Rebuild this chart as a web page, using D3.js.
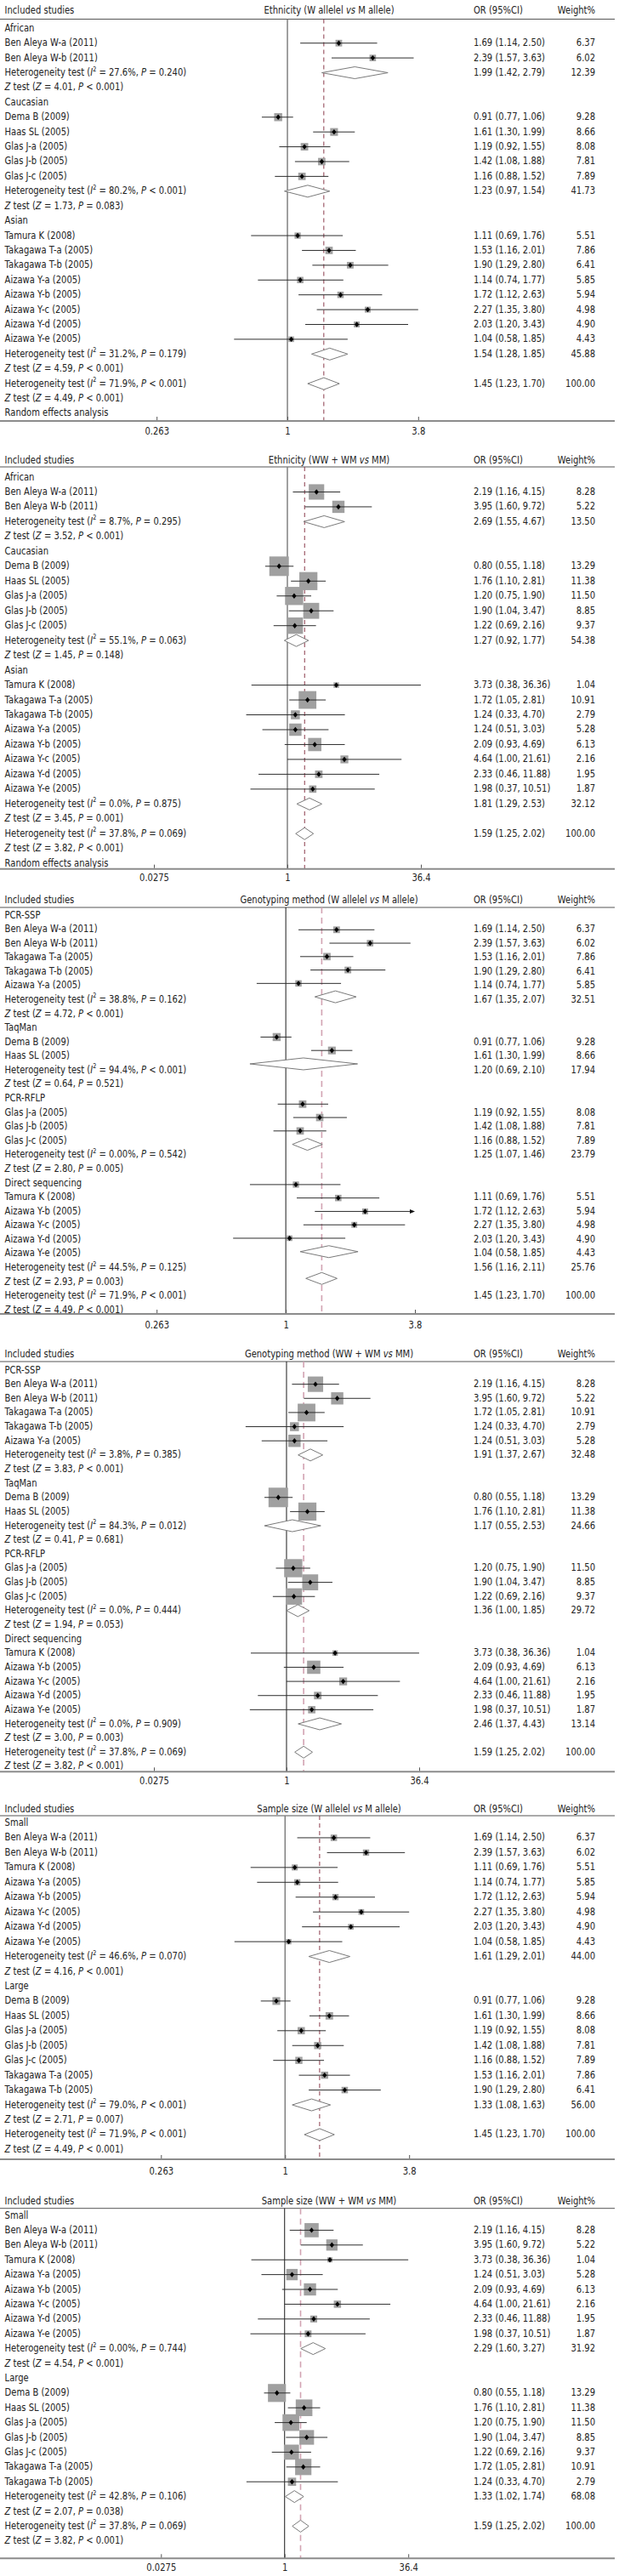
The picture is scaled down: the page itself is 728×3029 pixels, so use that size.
<!DOCTYPE html>
<html><head><meta charset="utf-8">
<script src="https://cdn.jsdelivr.net/npm/d3@7"></script>
<style>
body{margin:0;background:#fff}
svg{display:block}
text{font-family:"DejaVu Sans",Verdana,sans-serif;fill:#222}
</style>
</head><body>
<svg id="chart" width="728" height="3029"></svg>
<script>
// ---------------- DATA ----------------
// row kinds: g = subgroup label, s = study [name, OR, lo, hi, weight],
// h = heterogeneity [I2, P, OR, lo, hi, weight], z = Z test [Z, P], n = note
const titleEthAllele = ["Ethnicity (W allelel ", "vs", " M allele)"];
const titleEthGeno   = ["Ethnicity (WW + WM ", "vs", " MM)"];
const titleMethAllele = ["Genotyping method (W allelel ", "vs", " M allele)"];
const titleMethGeno   = ["Genotyping method (WW + WM ", "vs", " MM)"];
const titleSizeAllele = ["Sample size (W allelel ", "vs", " M allele)"];
const titleSizeGeno   = ["Sample size (WW + WM ", "vs", " MM)"];

const ticksAllele = [0.263, 1, 3.8];
const tickLabelsAllele = ["0.263", "1", "3.8"];
const ticksGeno = [0.0275, 1, 36.4];
const tickLabelsGeno = ["0.0275", "1", "36.4"];
const pooledAllele = 1.45;
const pooledGeno = 1.59;

const rowsEthAllele = [
  ["g","African"],
  ["s","Ben Aleya W-a (2011)",1.69,1.14,2.50,6.37],
  ["s","Ben Aleya W-b (2011)",2.39,1.57,3.63,6.02],
  ["h","27.6%","= 0.240",1.99,1.42,2.79,12.39],
  ["z","4.01","< 0.001"],
  ["g","Caucasian"],
  ["s","Dema B (2009)",0.91,0.77,1.06,9.28],
  ["s","Haas SL (2005)",1.61,1.30,1.99,8.66],
  ["s","Glas J-a (2005)",1.19,0.92,1.55,8.08],
  ["s","Glas J-b (2005)",1.42,1.08,1.88,7.81],
  ["s","Glas J-c (2005)",1.16,0.88,1.52,7.89],
  ["h","80.2%","< 0.001",1.23,0.97,1.54,41.73],
  ["z","1.73","= 0.083"],
  ["g","Asian"],
  ["s","Tamura K (2008)",1.11,0.69,1.76,5.51],
  ["s","Takagawa T-a (2005)",1.53,1.16,2.01,7.86],
  ["s","Takagawa T-b (2005)",1.90,1.29,2.80,6.41],
  ["s","Aizawa Y-a (2005)",1.14,0.74,1.77,5.85],
  ["s","Aizawa Y-b (2005)",1.72,1.12,2.63,5.94],
  ["s","Aizawa Y-c (2005)",2.27,1.35,3.80,4.98],
  ["s","Aizawa Y-d (2005)",2.03,1.20,3.43,4.90],
  ["s","Aizawa Y-e (2005)",1.04,0.58,1.85,4.43],
  ["h","31.2%","= 0.179",1.54,1.28,1.85,45.88],
  ["z","4.59","< 0.001"],
  ["h","71.9%","< 0.001",1.45,1.23,1.70,100.00],
  ["z","4.49","< 0.001"],
  ["n","Random effects analysis"]
];

const rowsEthGeno = [
  ["g","African"],
  ["s","Ben Aleya W-a (2011)",2.19,1.16,4.15,8.28],
  ["s","Ben Aleya W-b (2011)",3.95,1.60,9.72,5.22],
  ["h","8.7%","= 0.295",2.69,1.55,4.67,13.50],
  ["z","3.52","< 0.001"],
  ["g","Caucasian"],
  ["s","Dema B (2009)",0.80,0.55,1.18,13.29],
  ["s","Haas SL (2005)",1.76,1.10,2.81,11.38],
  ["s","Glas J-a (2005)",1.20,0.75,1.90,11.50],
  ["s","Glas J-b (2005)",1.90,1.04,3.47,8.85],
  ["s","Glas J-c (2005)",1.22,0.69,2.16,9.37],
  ["h","55.1%","= 0.063",1.27,0.92,1.77,54.38],
  ["z","1.45","= 0.148"],
  ["g","Asian"],
  ["s","Tamura K (2008)",3.73,0.38,36.36,1.04],
  ["s","Takagawa T-a (2005)",1.72,1.05,2.81,10.91],
  ["s","Takagawa T-b (2005)",1.24,0.33,4.70,2.79],
  ["s","Aizawa Y-a (2005)",1.24,0.51,3.03,5.28],
  ["s","Aizawa Y-b (2005)",2.09,0.93,4.69,6.13],
  ["s","Aizawa Y-c (2005)",4.64,1.00,21.61,2.16],
  ["s","Aizawa Y-d (2005)",2.33,0.46,11.88,1.95],
  ["s","Aizawa Y-e (2005)",1.98,0.37,10.51,1.87],
  ["h","0.0%","= 0.875",1.81,1.29,2.53,32.12],
  ["z","3.45","= 0.001"],
  ["h","37.8%","= 0.069",1.59,1.25,2.02,100.00],
  ["z","3.82","< 0.001"],
  ["n","Random effects analysis"]
];

const rowsMethAllele = [
  ["g","PCR-SSP"],
  ["s","Ben Aleya W-a (2011)",1.69,1.14,2.50,6.37],
  ["s","Ben Aleya W-b (2011)",2.39,1.57,3.63,6.02],
  ["s","Takagawa T-a (2005)",1.53,1.16,2.01,7.86],
  ["s","Takagawa T-b (2005)",1.90,1.29,2.80,6.41],
  ["s","Aizawa Y-a (2005)",1.14,0.74,1.77,5.85],
  ["h","38.8%","= 0.162",1.67,1.35,2.07,32.51],
  ["z","4.72","< 0.001"],
  ["g","TaqMan"],
  ["s","Dema B (2009)",0.91,0.77,1.06,9.28],
  ["s","Haas SL (2005)",1.61,1.30,1.99,8.66],
  ["h","94.4%","< 0.001",1.20,0.69,2.10,17.94],
  ["z","0.64","= 0.521"],
  ["g","PCR-RFLP"],
  ["s","Glas J-a (2005)",1.19,0.92,1.55,8.08],
  ["s","Glas J-b (2005)",1.42,1.08,1.88,7.81],
  ["s","Glas J-c (2005)",1.16,0.88,1.52,7.89],
  ["h","0.00%","= 0.542",1.25,1.07,1.46,23.79],
  ["z","2.80","= 0.005"],
  ["g","Direct sequencing"],
  ["s","Tamura K (2008)",1.11,0.69,1.76,5.51],
  ["s","Aizawa Y-b (2005)",1.72,1.12,2.63,5.94],
  ["s","Aizawa Y-c (2005)",2.27,1.35,3.80,4.98],
  ["s","Aizawa Y-d (2005)",2.03,1.20,3.43,4.90],
  ["s","Aizawa Y-e (2005)",1.04,0.58,1.85,4.43],
  ["h","44.5%","= 0.125",1.56,1.16,2.11,25.76],
  ["z","2.93","= 0.003"],
  ["h","71.9%","< 0.001",1.45,1.23,1.70,100.00],
  ["z","4.49","< 0.001"]
];

const rowsMethGeno = [
  ["g","PCR-SSP"],
  ["s","Ben Aleya W-a (2011)",2.19,1.16,4.15,8.28],
  ["s","Ben Aleya W-b (2011)",3.95,1.60,9.72,5.22],
  ["s","Takagawa T-a (2005)",1.72,1.05,2.81,10.91],
  ["s","Takagawa T-b (2005)",1.24,0.33,4.70,2.79],
  ["s","Aizawa Y-a (2005)",1.24,0.51,3.03,5.28],
  ["h","3.8%","= 0.385",1.91,1.37,2.67,32.48],
  ["z","3.83","< 0.001"],
  ["g","TaqMan"],
  ["s","Dema B (2009)",0.80,0.55,1.18,13.29],
  ["s","Haas SL (2005)",1.76,1.10,2.81,11.38],
  ["h","84.3%","= 0.012",1.17,0.55,2.53,24.66],
  ["z","0.41","= 0.681"],
  ["g","PCR-RFLP"],
  ["s","Glas J-a (2005)",1.20,0.75,1.90,11.50],
  ["s","Glas J-b (2005)",1.90,1.04,3.47,8.85],
  ["s","Glas J-c (2005)",1.22,0.69,2.16,9.37],
  ["h","0.0%","= 0.444",1.36,1.00,1.85,29.72],
  ["z","1.94","= 0.053"],
  ["g","Direct sequencing"],
  ["s","Tamura K (2008)",3.73,0.38,36.36,1.04],
  ["s","Aizawa Y-b (2005)",2.09,0.93,4.69,6.13],
  ["s","Aizawa Y-c (2005)",4.64,1.00,21.61,2.16],
  ["s","Aizawa Y-d (2005)",2.33,0.46,11.88,1.95],
  ["s","Aizawa Y-e (2005)",1.98,0.37,10.51,1.87],
  ["h","0.0%","= 0.909",2.46,1.37,4.43,13.14],
  ["z","3.00","= 0.003"],
  ["h","37.8%","= 0.069",1.59,1.25,2.02,100.00],
  ["z","3.82","< 0.001"]
];

const rowsSizeAllele = [
  ["g","Small"],
  ["s","Ben Aleya W-a (2011)",1.69,1.14,2.50,6.37],
  ["s","Ben Aleya W-b (2011)",2.39,1.57,3.63,6.02],
  ["s","Tamura K (2008)",1.11,0.69,1.76,5.51],
  ["s","Aizawa Y-a (2005)",1.14,0.74,1.77,5.85],
  ["s","Aizawa Y-b (2005)",1.72,1.12,2.63,5.94],
  ["s","Aizawa Y-c (2005)",2.27,1.35,3.80,4.98],
  ["s","Aizawa Y-d (2005)",2.03,1.20,3.43,4.90],
  ["s","Aizawa Y-e (2005)",1.04,0.58,1.85,4.43],
  ["h","46.6%","= 0.070",1.61,1.29,2.01,44.00],
  ["z","4.16","< 0.001"],
  ["g","Large"],
  ["s","Dema B (2009)",0.91,0.77,1.06,9.28],
  ["s","Haas SL (2005)",1.61,1.30,1.99,8.66],
  ["s","Glas J-a (2005)",1.19,0.92,1.55,8.08],
  ["s","Glas J-b (2005)",1.42,1.08,1.88,7.81],
  ["s","Glas J-c (2005)",1.16,0.88,1.52,7.89],
  ["s","Takagawa T-a (2005)",1.53,1.16,2.01,7.86],
  ["s","Takagawa T-b (2005)",1.90,1.29,2.80,6.41],
  ["h","79.0%","< 0.001",1.33,1.08,1.63,56.00],
  ["z","2.71","= 0.007"],
  ["h","71.9%","< 0.001",1.45,1.23,1.70,100.00],
  ["z","4.49","< 0.001"]
];

const rowsSizeGeno = [
  ["g","Small"],
  ["s","Ben Aleya W-a (2011)",2.19,1.16,4.15,8.28],
  ["s","Ben Aleya W-b (2011)",3.95,1.60,9.72,5.22],
  ["s","Tamura K (2008)",3.73,0.38,36.36,1.04],
  ["s","Aizawa Y-a (2005)",1.24,0.51,3.03,5.28],
  ["s","Aizawa Y-b (2005)",2.09,0.93,4.69,6.13],
  ["s","Aizawa Y-c (2005)",4.64,1.00,21.61,2.16],
  ["s","Aizawa Y-d (2005)",2.33,0.46,11.88,1.95],
  ["s","Aizawa Y-e (2005)",1.98,0.37,10.51,1.87],
  ["h","0.00%","= 0.744",2.29,1.60,3.27,31.92],
  ["z","4.54","< 0.001"],
  ["g","Large"],
  ["s","Dema B (2009)",0.80,0.55,1.18,13.29],
  ["s","Haas SL (2005)",1.76,1.10,2.81,11.38],
  ["s","Glas J-a (2005)",1.20,0.75,1.90,11.50],
  ["s","Glas J-b (2005)",1.90,1.04,3.47,8.85],
  ["s","Glas J-c (2005)",1.22,0.69,2.16,9.37],
  ["s","Takagawa T-a (2005)",1.72,1.05,2.81,10.91],
  ["s","Takagawa T-b (2005)",1.24,0.33,4.70,2.79],
  ["h","42.8%","= 0.106",1.33,1.02,1.74,68.08],
  ["z","2.07","= 0.038"],
  ["h","37.8%","= 0.069",1.59,1.25,2.02,100.00],
  ["z","3.82","< 0.001"]
];

// ---------------- LAYOUT / STYLE ----------------
const FS = 12.5, SX = 0.8;
const COL_LABEL = 5.6, COL_TITLE = 387, COL_OR = 557, COL_W = 700, LINE_END = 723;
const dashDark = {ref:"#808080", refW:1.5, dash:"#8a3a4a", dashW:1, dashArr:"5,4"};
const dashPink = {ref:"#1a1a1a", refW:1, dash:"#d2a3b2", dashW:1.6, dashArr:"7,5"};

const panels = [
  {title:titleEthAllele, rows:rowsEthAllele, ticks:ticksAllele, tickLabels:tickLabelsAllele, pooled:pooledAllele,
   headerY:11.7, lineY:22.5, row0:32.3, step:17.41, mrow0:33.3, mstep:17.41, axisY:495, tickY:506.7,
   xr:[184.2,491.8], k:3.1, st:dashDark, clip:false},
  {title:titleEthGeno, rows:rowsEthGeno, ticks:ticksGeno, tickLabels:tickLabelsGeno, pooled:pooledGeno,
   headerY:540, lineY:549, row0:560, step:17.47, mrow0:561, mstep:17.47, axisY:1021.7, tickY:1031.7,
   xr:[181,495], k:6.3, st:dashDark, clip:false},
  {title:titleMethAllele, rows:rowsMethAllele, ticks:ticksAllele, tickLabels:tickLabelsAllele, pooled:pooledAllele,
   headerY:1057.3, lineY:1067, row0:1075, step:16.58, mrow0:1077.5, mstep:15.77, axisY:1545, tickY:1557.7,
   xr:[184.2,488], k:3.1, st:dashPink, clip:true},
  {title:titleMethGeno, rows:rowsMethGeno, ticks:ticksGeno, tickLabels:tickLabelsGeno, pooled:pooledGeno,
   headerY:1591.7, lineY:1601, row0:1610, step:16.64, mrow0:1611, mstep:16.64, axisY:2083.3, tickY:2093.3,
   xr:[181,493], k:6.3, st:dashPink, clip:false},
  {title:titleSizeAllele, rows:rowsSizeAllele, ticks:ticksAllele, tickLabels:tickLabelsAllele, pooled:pooledAllele,
   headerY:2126.7, lineY:2135, row0:2142.5, step:17.45, mrow0:2143.5, mstep:17.45, axisY:2539, tickY:2552,
   xr:[189.3,481.2], k:3.0, st:dashDark, clip:false},
  {title:titleSizeGeno, rows:rowsSizeGeno, ticks:ticksGeno, tickLabels:tickLabelsGeno, pooled:pooledGeno,
   headerY:2587.3, lineY:2596.7, row0:2604, step:17.4, mrow0:2605, mstep:17.4, axisY:3008.3, tickY:3018.3,
   xr:[189.3,480.2], k:5.8, st:dashPink, clip:false}
];

// ---------------- DRAW ----------------
const svg = d3.select("#chart");
const fmt = d3.format(".2f");

function addText(g, x, y, anchor, segs) {
  const t = g.append("text")
    .attr("transform", `translate(${x},${y}) scale(${SX},1)`)
    .attr("text-anchor", anchor)
    .attr("dy", "0.36em")
    .style("font-size", FS + "px");
  let shifted = false;
  segs.forEach(s => {
    const str = typeof s === "string" ? s : s[0];
    const sty = typeof s === "string" ? "" : s[1];
    const ts = t.append("tspan").text(str);
    if (sty === "i") ts.style("font-style", "italic");
    if (sty === "sup") { ts.style("font-size", "8px").attr("dy", -5.5); shifted = true; }
    else if (shifted) { ts.attr("dy", 5.5); shifted = false; }
  });
  return t;
}

panels.forEach(p => {
  const g = svg.append("g");
  const x = d3.scaleLog().domain([p.ticks[0], p.ticks[2]]).range(p.xr);
  const yL = i => p.row0 + i * p.step;
  const yM = i => p.mrow0 + i * p.mstep;
  const xMax = p.xr[1];

  // header
  addText(g, COL_LABEL, p.headerY, "start", ["Included studies"]);
  addText(g, COL_TITLE, p.headerY, "middle", [p.title[0], [p.title[1], "i"], p.title[2]]);
  addText(g, COL_OR, p.headerY, "start", ["OR (95%CI)"]);
  addText(g, COL_W, p.headerY, "end", ["Weight%"]);
  g.append("line").attr("x1", 0).attr("x2", LINE_END).attr("y1", p.lineY).attr("y2", p.lineY)
    .attr("stroke", "#555").attr("stroke-width", 1);

  // reference & pooled lines
  g.append("line").attr("x1", x(1)).attr("x2", x(1)).attr("y1", p.lineY).attr("y2", p.axisY)
    .attr("stroke", p.st.ref).attr("stroke-width", p.st.refW);
  g.append("line").attr("x1", x(p.pooled)).attr("x2", x(p.pooled)).attr("y1", p.lineY).attr("y2", p.axisY)
    .attr("stroke", p.st.dash).attr("stroke-width", p.st.dashW).attr("stroke-dasharray", p.st.dashArr);

  // rows
  p.rows.forEach((r, i) => {
    const ly = yL(i), my = yM(i);
    const kind = r[0];
    if (kind === "g" || kind === "n") {
      addText(g, COL_LABEL, ly, "start", [r[1]]);
    } else if (kind === "z") {
      addText(g, COL_LABEL, ly, "start", [["Z","i"], " test (", ["Z","i"], " = " + r[1] + ", ", ["P","i"], " " + r[2] + ")"]);
    } else if (kind === "s") {
      const [, name, or, lo, hi, w] = r;
      addText(g, COL_LABEL, ly, "start", [name]);
      addText(g, COL_OR, ly, "start", [`${fmt(or)} (${fmt(lo)}, ${fmt(hi)})`]);
      addText(g, COL_W, ly, "end", [fmt(w)]);
      const s = p.k * Math.sqrt(w);
      g.append("rect").attr("x", x(or) - s / 2).attr("y", my - s / 2).attr("width", s).attr("height", s)
        .attr("fill", "#a0a0a0");
      const clipped = p.clip && x(hi) >= xMax - 0.5;
      const x2 = clipped ? xMax - 5 : x(hi);
      g.append("line").attr("x1", x(lo)).attr("x2", x2).attr("y1", my).attr("y2", my)
        .attr("stroke", "#2e2e2e").attr("stroke-width", 1);
      if (clipped) {
        g.append("path").attr("d", `M${xMax},${my} L${xMax - 6},${my - 2.5} L${xMax - 6},${my + 2.5} Z`)
          .attr("fill", "#111");
      }
      const d = 2.6;
      g.append("path").attr("d", `M${x(or) - d},${my} L${x(or)},${my - d - 0.6} L${x(or) + d},${my} L${x(or)},${my + d + 0.6} Z`)
        .attr("fill", "#000");
    } else if (kind === "h") {
      const [, i2, pv, or, lo, hi, w] = r;
      addText(g, COL_LABEL, ly, "start", ["Heterogeneity test (", ["I","i"], ["2","sup"], " = " + i2 + ", ", ["P","i"], " " + pv + ")"]);
      addText(g, COL_OR, ly, "start", [`${fmt(or)} (${fmt(lo)}, ${fmt(hi)})`]);
      addText(g, COL_W, ly, "end", [fmt(w)]);
      const h = 7;
      g.append("path").attr("d", `M${x(lo)},${my} L${x(or)},${my - h} L${x(hi)},${my} L${x(or)},${my + h} Z`)
        .attr("fill", "#fff").attr("stroke", "#7a7a7a").attr("stroke-width", 1);
    }
  });

  // axis
  g.append("line").attr("x1", 0).attr("x2", LINE_END).attr("y1", p.axisY).attr("y2", p.axisY)
    .attr("stroke", "#8c8c8c").attr("stroke-width", 2);
  const ax = d3.axisBottom(x).tickValues(p.ticks).tickSize(-4).tickFormat((d, i) => p.tickLabels[i]);
  const ag = g.append("g").attr("transform", `translate(0,${p.axisY - 1})`).call(ax);
  ag.select(".domain").remove();
  ag.selectAll(".tick line").attr("stroke", "#555");
  ag.selectAll(".tick text")
    .attr("y", null).attr("dy", "0.36em")
    .attr("transform", `translate(0,${p.tickY - p.axisY + 1}) scale(${SX},1)`)
    .attr("fill", "#222")
    .style("font-size", FS + "px")
    .style("font-family", '"DejaVu Sans",Verdana,sans-serif');
});
</script>
</body></html>
